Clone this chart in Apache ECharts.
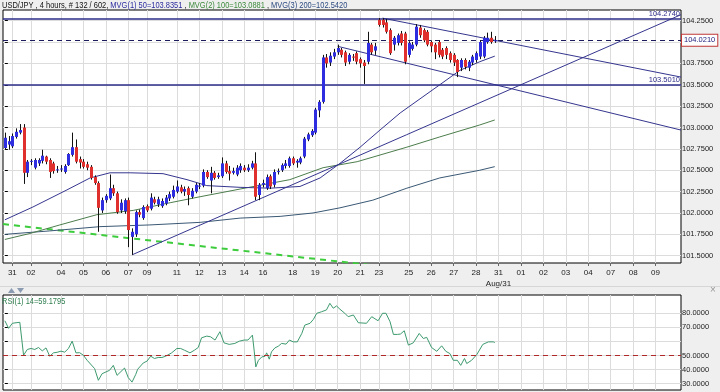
<!DOCTYPE html>
<html><head><meta charset="utf-8">
<script src="https://cdn.jsdelivr.net/npm/echarts@6/dist/echarts.min.js"></script>
<style>html,body{margin:0;padding:0;background:#efefef;}#c{width:720px;height:392px;}</style>
</head><body><div id="c"></div>
<script>
// ---------- DATA ----------
const xLabelIdx = [2,7,15,21,27,33,38,46,52,58,64,69,77,83,89,95,100,108,114,120,126,132,138,144,150,156,162,168,174];
const xLabelText = ['31','02','04','05','06','07','09','11','12','13','14','16','18','19','20','21','23','25','26','27','28','31','01','02','03','04','07','08','09'];
const monthLabelIdx = 132, monthLabel = 'Aug/31';
const priceTicks = [101.5,101.75,102,102.25,102.5,102.75,103,103.25,103.5,103.75,104,104.25];
const priceLabels = [101.5,101.75,102,102.25,102.5,102.75,103,103.25,103.5,103.75,104.25];
const rsiTicks = [30,40,50,60,70,80];
const rsiLabels = [30,40,50,70,80];
// [open, high, low, close] per 4-hour bar
const ohlc = [
[102.76,102.94,102.74,102.88],[102.80,102.90,102.74,102.84],[102.78,102.93,102.76,102.90],[102.89,102.99,102.87,102.95],
[102.94,103.04,102.92,102.97],[103.00,103.04,102.34,102.47],[102.47,102.62,102.42,102.60],[102.60,102.63,102.56,102.61],
[102.53,102.64,102.51,102.62],[102.58,102.64,102.55,102.62],[102.61,102.74,102.58,102.67],[102.66,102.67,102.57,102.60],
[102.62,102.64,102.41,102.48],[102.58,102.60,102.46,102.49],[102.50,102.55,102.47,102.51],[102.51,102.56,102.48,102.52],
[102.48,102.57,102.46,102.55],[102.56,102.70,102.55,102.69],[102.68,102.94,102.66,102.77],[102.77,102.86,102.58,102.60],
[102.63,102.66,102.52,102.59],[102.60,102.63,102.52,102.54],[102.57,102.60,102.50,102.53],[102.54,102.56,102.39,102.41],
[102.42,102.44,102.33,102.35],[102.35,102.37,101.78,102.06],[102.03,102.18,102.00,102.15],[102.15,102.22,102.12,102.20],
[102.17,102.45,102.15,102.29],[102.29,102.33,102.20,102.23],[102.23,102.25,101.99,102.01],[102.03,102.16,102.00,102.12],
[102.02,102.17,101.99,102.15],[102.15,102.18,101.60,101.80],[101.72,101.82,101.51,101.78],[101.75,102.03,101.72,102.01],
[102.01,102.04,101.95,101.98],[101.94,102.09,101.92,102.07],[102.08,102.10,102.01,102.03],[102.05,102.23,102.03,102.18],
[102.16,102.19,102.10,102.12],[102.10,102.19,102.07,102.16],[102.08,102.17,102.06,102.14],[102.11,102.21,102.09,102.18],
[102.17,102.25,102.14,102.22],[102.19,102.32,102.17,102.27],[102.25,102.38,102.23,102.31],[102.30,102.33,102.23,102.25],
[102.25,102.31,102.20,102.28],[102.29,102.31,102.09,102.21],[102.19,102.29,102.17,102.26],[102.25,102.35,102.23,102.33],
[102.31,102.35,102.28,102.32],[102.32,102.51,102.30,102.48],[102.48,102.50,102.40,102.42],[102.38,102.54,102.23,102.47],
[102.47,102.49,102.39,102.41],[102.42,102.47,102.40,102.44],[102.43,102.65,102.41,102.58],[102.58,102.61,102.46,102.48],
[102.49,102.55,102.38,102.46],[102.47,102.53,102.45,102.49],[102.45,102.56,102.43,102.53],[102.50,102.58,102.47,102.55],
[102.53,102.56,102.48,102.50],[102.50,102.57,102.48,102.53],[102.53,102.61,102.51,102.58],[102.58,102.71,102.15,102.19],
[102.21,102.35,102.15,102.33],[102.33,102.39,102.30,102.35],[102.29,102.45,102.27,102.42],[102.43,102.45,102.28,102.31],
[102.33,102.51,102.30,102.48],[102.48,102.52,102.45,102.49],[102.50,102.58,102.48,102.56],[102.55,102.62,102.52,102.58],
[102.55,102.66,102.53,102.64],[102.64,102.66,102.56,102.58],[102.59,102.63,102.53,102.61],[102.59,102.66,102.57,102.64],
[102.66,102.89,102.64,102.87],[102.86,102.94,102.84,102.92],[102.91,102.98,102.89,102.96],[102.94,103.23,102.92,103.21],
[103.20,103.32,103.12,103.30],[103.30,103.85,103.28,103.82],[103.82,103.86,103.70,103.75],[103.76,103.88,103.72,103.84],
[103.83,103.92,103.80,103.88],[103.88,103.97,103.85,103.93],[103.91,103.93,103.82,103.85],[103.88,103.90,103.72,103.76],
[103.77,103.87,103.74,103.85],[103.83,103.86,103.78,103.82],[103.87,103.89,103.74,103.77],[103.80,103.82,103.70,103.75],
[103.76,103.79,103.51,103.72],[103.77,104.12,103.74,103.99],[103.97,103.99,103.85,103.88],[103.90,103.99,103.85,103.95],
[104.26,104.28,104.18,104.20],[104.26,104.28,104.17,104.20],[104.23,104.27,104.10,104.12],[104.14,104.16,103.85,103.87],
[103.97,104.07,103.90,104.05],[103.99,104.10,103.96,104.08],[104.10,104.13,103.96,103.99],[104.10,104.12,103.74,103.77],
[103.85,104.01,103.82,103.99],[103.92,104.00,103.90,103.97],[103.97,104.21,103.95,104.18],[104.17,104.20,104.05,104.08],
[104.14,104.16,104.00,104.02],[104.12,104.14,103.95,103.97],[104.00,104.02,103.88,103.95],[103.97,103.99,103.80,103.88],
[104.00,104.02,103.82,103.85],[103.91,103.93,103.80,103.83],[103.93,103.95,103.80,103.85],[103.87,103.89,103.76,103.79],
[103.85,103.87,103.72,103.76],[103.79,103.80,103.59,103.65],[103.70,103.81,103.66,103.79],[103.79,103.81,103.68,103.71],
[103.70,103.79,103.66,103.77],[103.76,103.85,103.73,103.83],[103.79,103.89,103.76,103.87],[103.83,104.02,103.80,104.00],
[103.83,104.07,103.81,104.05],[104.00,104.11,103.98,104.05],[104.05,104.12,103.98,104.00],[104.01,104.07,103.99,104.02]
];
// moving averages, [bar, price]
const ma50 = [[0,101.92],[7.5,102.07],[16.6,102.27],[22.8,102.41],[28.1,102.47],[33.5,102.47],[42.3,102.46],[48.7,102.39],[54,102.32],[62.9,102.30],[70.9,102.29],[78.9,102.31],[84.3,102.41],[89.6,102.58],[95,102.77],[100.3,102.97],[105.7,103.17],[111.8,103.36],[116.3,103.50],[121.7,103.67],[127,103.77],[131,103.835]];
const ma100 = [[0,101.69],[6.7,101.76],[14.7,101.86],[24.6,101.98],[34.3,102.03],[44.2,102.12],[52.2,102.19],[62.9,102.28],[76.2,102.39],[85.1,102.53],[94.2,102.60],[107.5,102.77],[116.3,102.89],[127,103.03],[131,103.088]];
const ma200 = [[0,101.75],[12,101.79],[25.4,101.84],[38.8,101.86],[52.2,101.89],[62.9,101.94],[73.6,101.96],[82.4,102.00],[89.6,102.06],[98.4,102.15],[107.5,102.29],[116.3,102.41],[127,102.50],[131,102.542]];
// drawn trend lines
const trendUp = [[34,101.51],[180.8,104.32]];
const channelTop = [[101,104.28],[180.8,103.59]];
const channelBottom = [[89,103.95],[180.8,102.97]];
const greenDash = [[-0.5,101.87],[100,101.38]];
const levelHigh = 104.274, levelLow = 103.501, lastPrice = 104.021;
// RSI(14)
const rsi = [[0,74.7],[1,69.3],[2,72.9],[3,73.3],[4,73.6],[5,50.2],[6,54.3],[7,55.0],[8,54.3],[9,55.7],[10,53.3],[11,55.4],[12,49.5],[13,51.9],[14,52.3],[15,53.1],[16,52.4],[17,55.0],[18,60.2],[19,51.9],[20,52.0],[21,50.2],[22,46.6],[24,40.7],[25,32.4],[26,37.1],[28,39.5],[29,43.0],[30,35.9],[32,41.1],[33,34.3],[34,31.1],[35,36.6],[35.5,40.2],[36,39.5],[37,44.7],[38,46.0],[39,49.5],[40,47.9],[41,48.6],[42,48.6],[43,49.5],[44.6,51.9],[46,55.0],[47,55.0],[48,53.8],[49.5,51.9],[50.7,53.8],[51.7,55.7],[52.6,62.6],[54,63.8],[55,63.3],[56.2,61.0],[57.5,66.9],[58.6,59.0],[60,57.9],[61.5,58.6],[62.7,60.2],[64,61.0],[65,61.0],[66.2,64.5],[66.7,52.6],[67.1,41.9],[67.8,46.6],[68.7,49.0],[69.6,49.5],[70,51.9],[70.7,47.4],[71.3,52.6],[72.2,55.4],[73.1,56.6],[74,58.6],[75.2,58.1],[76.1,61.0],[77.1,59.7],[78.2,59.7],[79.4,65.7],[80.2,71.6],[81.6,72.9],[82.5,75.7],[83.4,80.0],[84.7,81.1],[86,82.4],[86.9,87.1],[87.8,83.6],[88.7,85.2],[89.6,82.9],[90.9,80.0],[91.8,77.6],[93.2,78.8],[94.5,73.3],[96.7,72.9],[98.1,77.6],[99.8,74.7],[101,80.0],[101.9,80.0],[103,74.0],[103.9,65.0],[105,65.0],[105.8,65.3],[106.8,67.6],[107.9,57.4],[109.2,59.0],[109.7,59.7],[110.8,65.7],[111.9,62.1],[112.8,62.9],[114.1,55.7],[115.5,53.0],[116.8,56.9],[117.9,53.0],[119,51.4],[119.9,46.6],[121,46.6],[121.9,43.0],[122.9,47.9],[123.5,44.3],[124.8,46.6],[126.2,50.7],[127.8,57.9],[129.3,59.7],[130.6,59.7],[131,59.18]];
const rsiLast = 59.1795;

// ---------- CHART ----------
const FONT = "'Liberation Sans',Arial,sans-serif";
const BLUE = '#2e2ee0', RED = '#e0302e', NAVY = '#35358f';
const XMIN = -0.5, XMAX = 180.8;
const NARROW = 0.83;
const chart = echarts.init(document.getElementById('c'));

function renderCandle(params, api) {
  const i = api.value(0), o = api.value(1), h = api.value(2), l = api.value(3), c = api.value(4);
  const pO = api.coord([i, o]), pC = api.coord([i, c]), pL = api.coord([i, l]), pH = api.coord([i, h]);
  const x = Math.round(pO[0]);
  const top = Math.min(pO[1], pC[1]);
  const ht = Math.max(1, Math.abs(pO[1] - pC[1]));
  return {type: 'group', children: [
    {type: 'line', shape: {x1: x + 0.5, y1: pH[1], x2: x + 0.5, y2: pL[1]}, style: {stroke: '#111', lineWidth: 1}},
    {type: 'rect', shape: {x: x - 1, y: top, width: 3, height: ht}, style: {fill: c >= o ? BLUE : RED}}
  ]};
}
function lineSeries(data, color, width, type, extra) {
  return Object.assign({type: 'line', data: data, xAxisIndex: 0, yAxisIndex: 0, showSymbol: false, silent: true,
    lineStyle: {color: color, width: width, type: type || 'solid'}, z: 3}, extra || {});
}
const xLabelFmt = v => {
  const k = xLabelIdx.indexOf(v);
  if (k < 0) return '';
  return xLabelText[k] + (v === monthLabelIdx ? '\n' + monthLabel : '');
};
const boxLabel = {show: true, position: 'end', color: '#1c1c7c', fontSize: 7.5, fontFamily: FONT,
  backgroundColor: '#fff', borderColor: '#c03636', borderWidth: 1, padding: [2, 2, 1, 2], distance: 1};

chart.setOption({
  animation: false,
  backgroundColor: '#efefef',
  textStyle: {fontFamily: FONT},
  grid: [
    {left: 3, top: 10, width: 678, height: 253, show: true, backgroundColor: '#fff', borderColor: '#000', borderWidth: 1},
    {left: 3, top: 295, width: 678, height: 95, show: true, backgroundColor: '#fff', borderColor: '#000', borderWidth: 1}
  ],
  xAxis: [
    {gridIndex: 0, type: 'value', min: XMIN, max: XMAX, axisLine: {show: false},
     axisTick: {show: true, inside: false, length: 3, customValues: xLabelIdx, lineStyle: {color: '#666'}},
     axisLabel: {customValues: xLabelIdx, formatter: xLabelFmt, fontSize: 8, color: '#222', margin: 4, fontFamily: FONT, lineHeight: 11},
     splitLine: {show: true, lineStyle: {color: '#dcdcdc', width: 1}}},
    {gridIndex: 1, type: 'value', min: XMIN, max: XMAX, axisLine: {show: false},
     axisTick: {show: false, customValues: xLabelIdx}, axisLabel: {show: false, customValues: xLabelIdx},
     splitLine: {show: true, lineStyle: {color: '#dcdcdc', width: 1}}}
  ],
  yAxis: [
    {gridIndex: 0, type: 'value', position: 'right', min: 101.4146, max: 104.375, axisLine: {show: false},
     axisTick: {show: true, length: 3, customValues: priceTicks, lineStyle: {color: '#000'}},
     axisLabel: {customValues: priceLabels, formatter: v => v.toFixed(4), fontSize: 7.5, color: '#222', margin: 1, fontFamily: FONT},
     splitLine: {show: true, lineStyle: {color: '#dcdcdc', width: 1}}},
    {gridIndex: 1, type: 'value', position: 'right', min: 25.5, max: 93, axisLine: {show: false},
     axisTick: {show: true, length: 3, customValues: rsiTicks, lineStyle: {color: '#000'}},
     axisLabel: {customValues: rsiLabels, formatter: v => v.toFixed(4), fontSize: 7.5, color: '#222', margin: 1, fontFamily: FONT},
     splitLine: {show: true, lineStyle: {color: '#dcdcdc', width: 1}}}
  ],
  series: [
    lineSeries(greenDash, '#3ccc3c', 2, [6, 5]),
    lineSeries(ma200, '#3a5874', 1),
    lineSeries(ma100, '#4c7d4c', 1),
    lineSeries(ma50, NAVY, 1, 'solid', {
      markLine: {symbol: 'none', silent: true, animation: false, data: [
        {yAxis: levelHigh, lineStyle: {color: '#2c2c8a', width: 1.5, type: 'solid'},
         label: {show: true, position: 'insideEndTop', formatter: levelHigh.toFixed(4), color: '#2c2c8a', fontSize: 7.5, fontFamily: FONT, distance: [1, 1]}},
        {yAxis: levelLow, lineStyle: {color: '#2c2c8a', width: 1.5, type: 'solid'},
         label: {show: true, position: 'insideEndTop', formatter: levelLow.toFixed(4), color: '#2c2c8a', fontSize: 7.5, fontFamily: FONT, distance: [1, 1]}},
        {yAxis: lastPrice, lineStyle: {color: '#1c1c5c', width: 1, type: [5, 4]},
         label: Object.assign({}, boxLabel, {formatter: lastPrice.toFixed(4)})}
      ]}
    }),
    lineSeries(trendUp, NAVY, 1),
    lineSeries(channelTop, NAVY, 1),
    lineSeries(channelBottom, NAVY, 1),
    {type: 'custom', xAxisIndex: 0, yAxisIndex: 0, renderItem: renderCandle, silent: true, z: 5,
     data: ohlc.map((d, i) => [i, d[0], d[1], d[2], d[3]]), encode: {x: 0, y: [1, 2, 3, 4]}},
    {type: 'line', xAxisIndex: 1, yAxisIndex: 1, data: rsi, showSymbol: false, silent: true,
     lineStyle: {color: '#3d9a6e', width: 1}, z: 4,
     markLine: {symbol: 'none', silent: true, animation: false, data: [
       {yAxis: 50, lineStyle: {color: '#b02828', width: 1, type: [5, 4]}, label: {show: false}},
       {yAxis: rsiLast, lineStyle: {opacity: 0}, label: Object.assign({}, boxLabel, {formatter: rsiLast.toFixed(4)})}
     ]}}
  ],
  graphic: [
    {type: 'text', x: 2, y: 1, scaleX: NARROW, z: 10, style: {
      text: '{k|USD/JPY , 4 hours, # 132 / 602, }{a|MVG(1) 50=103.8351}{k| , }{b|MVG(2) 100=103.0881}{k| , }{c|MVG(3) 200=102.5420}',
      font: '9px ' + FONT, verticalAlign: 'top',
      rich: {k: {fill: '#111', fontSize: 9, fontFamily: FONT}, a: {fill: '#2c2ca0', fontSize: 9, fontFamily: FONT},
             b: {fill: '#3c8a3c', fontSize: 9, fontFamily: FONT}, c: {fill: '#2c4a80', fontSize: 9, fontFamily: FONT}}}},
    {type: 'text', x: 2, y: 297, scaleX: NARROW, z: 10, style: {text: 'RSI(1) 14=' + rsiLast.toFixed(4), fill: '#2e7d4e', font: '9px ' + FONT, verticalAlign: 'top'}},
    {type: 'line', z: 1, shape: {x1: 0, y1: 286.5, x2: 720, y2: 286.5}, style: {stroke: '#d6d6d6', lineWidth: 1}},
    {type: 'polygon', z: 10, shape: {points: [[8, 293], [11.5, 288], [15, 293]]}, style: {fill: '#8a9bb2'}},
    {type: 'polygon', z: 10, shape: {points: [[17, 288], [24, 288], [20.5, 293]]}, style: {fill: '#8a9bb2'}},
    {type: 'text', x: 710, y: 285, z: 10, style: {text: '×', fill: '#999', font: '10px ' + FONT}}
  ]
});
</script>
</body></html>
